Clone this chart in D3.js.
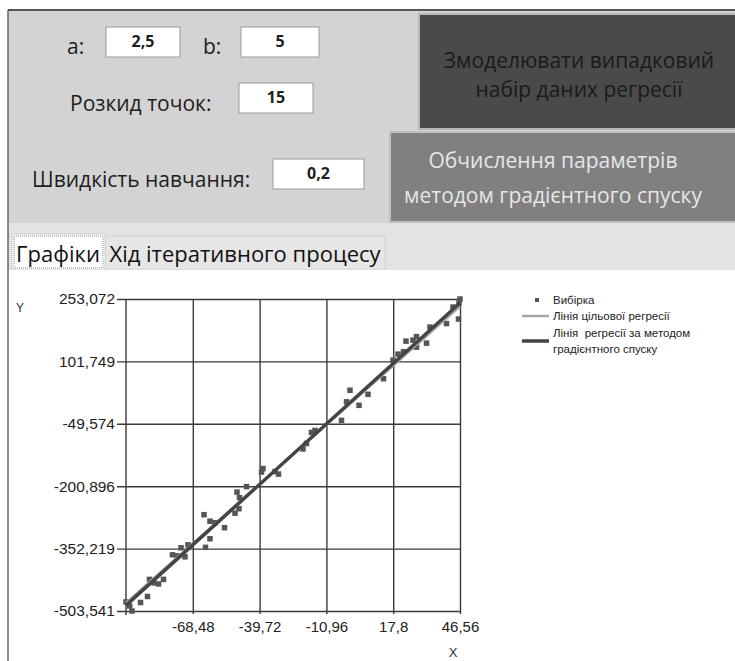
<!DOCTYPE html>
<html>
<head>
<meta charset="utf-8">
<script src="https://cdn.jsdelivr.net/npm/d3@7"></script>
<style>
  html, body { margin: 0; padding: 0; background: #fff; }
  svg { display: block; }
  .ui { font-family: "Open Sans", "Noto Sans", sans-serif; }
  .ax { font-family: "Liberation Sans", Arial, sans-serif; }
</style>
</head>
<body>
<svg id="c" width="735" height="661"></svg>
<script>
// ---- data ----
const paramA = 2.5;          // a
const paramB = 5;            // b
const spread = 15;           // розкид точок
const learningRate = 0.2;    // швидкість навчання
// fitted line by gradient descent
const gradA = 6;
const gradB = 5.1;

const xTickValues = [-68.48, -39.72, -10.96, 17.8, 46.56];
const yTickValues = [253.072, 101.749, -49.574, -200.896, -352.219, -503.541];
const xDomain = [-97.24, 46.56];
const yDomain = [-503.541, 253.072];

const sampleX = [-97.24, -95.65, -94.66, -90.98, -87.98, -87.12, -85.19, -83.25, -81.09, -77.22,
  -75.07, -73.56, -71.84, -70.55, -63.66, -63.01, -61.08, -61.08, -58.92, -54.83,
  -50.31, -49.45, -48.37, -48.59, -45.36, -38.90, -38.26, -33.09, -31.58, -21.03,
  -19.53, -17.38, -15.87, -4.46, -2.30, -0.80, 3.08, 6.95, 13.63, 17.71,
  19.87, 22.24, 23.31, 26.33, 27.83, 27.83, 32.14, 33.64, 40.75, 43.55,
  45.91, 46.56, 46.13];
const sampleY = [-481.6, -491.4, -503.541, -482.9, -468.3, -426.9, -435.4, -437.9, -426.9, -367.3,
  -369.7, -350.3, -372.2, -343.0, -270.0, -349.1, -328.4, -285.8, -289.4, -301.6,
  -266.3, -215.2, -228.6, -255.4, -201.9, -166.6, -158.1, -165.4, -171.5, -110.6,
  -97.3, -70.5, -65.6, -41.3, 3.7, 31.7, -4.8, 22.0, 59.7, 104.7,
  119.3, 125.3, 150.9, 153.3, 161.8, 136.3, 146.0, 185.0, 193.5, 233.6,
  204.4, 253.072, 243.3];

const legendLabels = ["Вибірка", "Лінія цільової регресії", ["Лінія\u00A0 регресії за методом", "градієнтного спуску"]];

const fmt = v => String(v).replace(".", ",");

const svg = d3.select("#c");

// ---- window / form chrome ----
svg.append("rect").attr("x", 8).attr("y", 10).attr("width", 727).attr("height", 213).attr("fill", "#d3d3d3");
svg.append("rect").attr("x", 8).attr("y", 223).attr("width", 727).attr("height", 47).attr("fill", "#e3e3e3");
svg.append("line").attr("x1", 8).attr("x2", 735).attr("y1", 10).attr("y2", 10).attr("stroke", "#555").attr("stroke-width", 2);

const ui = svg.append("g").attr("class", "ui");
function label(x, y, t, anchor) {
  ui.append("text").attr("x", x).attr("y", y).attr("font-size", 21).attr("fill", "#1e1e1e")
    .attr("text-anchor", anchor || "start").text(t);
}
function input(x, y, w, h, t) {
  ui.append("rect").attr("x", x).attr("y", y).attr("width", w).attr("height", h)
    .attr("fill", "#fff").attr("stroke", "#9a9a9a").attr("stroke-width", 1);
  ui.append("text").attr("x", x + w / 2).attr("y", y + h / 2 + 5).attr("font-size", 16)
    .attr("font-weight", 700).attr("fill", "#1e1e1e").attr("text-anchor", "middle").text(t);
}
label(67, 54, "a:");
input(106, 27, 74, 30, fmt(paramA));
label(203, 54, "b:");
input(241, 27, 78, 30, fmt(paramB));
label(70, 111, "Розкид точок:");
input(239, 83, 74, 30, fmt(spread));
label(32, 187, "Швидкість навчання:");
input(273, 159, 91, 30, fmt(learningRate));

// buttons
ui.append("rect").attr("x", 419).attr("y", 14).attr("width", 320).attr("height", 115)
  .attr("fill", "#4a4a4a").attr("stroke", "#b8b8b8").attr("stroke-width", 2);
ui.append("text").attr("x", 579).attr("y", 68).attr("font-size", 21).attr("fill", "#1a1a1a")
  .attr("text-anchor", "middle").text("Змоделювати випадковий");
ui.append("text").attr("x", 579).attr("y", 97).attr("font-size", 21).attr("fill", "#1a1a1a")
  .attr("text-anchor", "middle").text("набір даних регресії");

ui.append("rect").attr("x", 390).attr("y", 132).attr("width", 350).attr("height", 90)
  .attr("fill", "#808080").attr("stroke", "#c0c0c0").attr("stroke-width", 2);
ui.append("text").attr("x", 553).attr("y", 168).attr("font-size", 21).attr("fill", "#e6e6e6")
  .attr("text-anchor", "middle").text("Обчислення параметрів");
ui.append("text").attr("x", 553).attr("y", 203).attr("font-size", 21).attr("fill", "#e6e6e6")
  .attr("text-anchor", "middle").text("методом градієнтного спуску");

// tabs
ui.append("rect").attr("x", 105).attr("y", 236).attr("width", 280).attr("height", 34)
  .attr("fill", "#e6e6e6").attr("stroke", "#cfcfcf");
ui.append("rect").attr("x", 12).attr("y", 234).attr("width", 93).attr("height", 36)
  .attr("fill", "#fff").attr("stroke", "#cfcfcf");
ui.append("rect").attr("x", 14).attr("y", 236).attr("width", 89).attr("height", 32)
  .attr("fill", "none").attr("stroke", "#888").attr("stroke-dasharray", "1,1");
ui.append("text").attr("x", 58).attr("y", 262).attr("font-size", 22).attr("fill", "#111")
  .attr("text-anchor", "middle").text("Графіки");
ui.append("text").attr("x", 245).attr("y", 262).attr("font-size", 22).attr("fill", "#111")
  .attr("text-anchor", "middle").text("Хід ітеративного процесу");
svg.append("rect").attr("x", 9).attr("y", 270).attr("width", 726).attr("height", 391).attr("fill", "#fff");
svg.append("line").attr("x1", 8).attr("x2", 8).attr("y1", 10).attr("y2", 661).attr("stroke", "#666").attr("stroke-width", 1.5);

// ---- chart ----
const L = 126, R = 460, T = 299, B = 611;
const x = d3.scaleLinear().domain(xDomain).range([L, R]);
const y = d3.scaleLinear().domain(yDomain).range([B, T]);
const gridColor = "#3a3a3a";

const gx = svg.append("g").attr("class", "ax").attr("transform", `translate(0,${B})`)
  .call(d3.axisBottom(x).tickValues(xTickValues).tickSizeInner(-(B - T)).tickSizeOuter(0)
    .tickPadding(10).tickFormat(fmt));
gx.select(".domain").remove();
gx.selectAll(".tick line").attr("y1", 3).attr("stroke", gridColor).attr("stroke-width", 1.4);
gx.selectAll(".tick text").attr("font-size", 15).attr("fill", "#222").attr("font-family", "Liberation Sans, Arial, sans-serif");

const gy = svg.append("g").attr("class", "ax").attr("transform", `translate(${L},0)`)
  .call(d3.axisLeft(y).tickValues(yTickValues).tickSizeInner(-(R - L)).tickSizeOuter(0)
    .tickPadding(11).tickFormat(fmt));
gy.select(".domain").attr("stroke", gridColor).attr("stroke-width", 1.4)
  .attr("d", `M0,${T}V${B + 4}`);
gy.selectAll(".tick line").attr("x1", -9).attr("stroke", gridColor).attr("stroke-width", 1.4);
gy.selectAll(".tick text").attr("font-size", 15.5).attr("fill", "#222").attr("font-family", "Liberation Sans, Arial, sans-serif");

svg.append("text").attr("class", "ax").attr("x", 20).attr("y", 312).attr("font-size", 12)
  .attr("fill", "#333").attr("text-anchor", "middle").text("Y");
svg.append("text").attr("class", "ax").attr("x", 453).attr("y", 657).attr("font-size", 13)
  .attr("fill", "#333").attr("text-anchor", "middle").text("X");

// points
svg.append("g").selectAll("rect").data(sampleX.map((v, i) => [v, sampleY[i]])).join("rect")
  .attr("x", d => x(d[0]) - 2.75).attr("y", d => y(d[1]) - 2.75)
  .attr("width", 5.5).attr("height", 5.5).attr("fill", "#555");

// lines
const line = d3.line().x(d => x(d[0])).y(d => y(d[1]));
const lineData = (a, b) => xDomain.map(v => [v, a + b * v]);
svg.append("path").attr("d", line(lineData(paramA, paramB))).attr("fill", "none")
  .attr("stroke", "#a6a6a6").attr("stroke-width", 2.5);
svg.append("path").attr("d", line(lineData(gradA, gradB))).attr("fill", "none")
  .attr("stroke", "#444").attr("stroke-width", 3.5);

// legend
const lg = svg.append("g").attr("class", "ax").attr("font-size", 11.5).attr("fill", "#222");
lg.append("rect").attr("x", 535).attr("y", 298).attr("width", 4).attr("height", 4).attr("fill", "#555");
lg.append("text").attr("x", 553).attr("y", 304).text(legendLabels[0]);
lg.append("line").attr("x1", 522).attr("x2", 549).attr("y1", 316).attr("y2", 316)
  .attr("stroke", "#a6a6a6").attr("stroke-width", 2.5);
lg.append("text").attr("x", 553).attr("y", 320).text(legendLabels[1]);
lg.append("line").attr("x1", 522).attr("x2", 549).attr("y1", 341).attr("y2", 341)
  .attr("stroke", "#444").attr("stroke-width", 3.5);
lg.append("text").attr("x", 553).attr("y", 337).text(legendLabels[2][0]);
lg.append("text").attr("x", 553).attr("y", 353).text(legendLabels[2][1]);
</script>
</body>
</html>
